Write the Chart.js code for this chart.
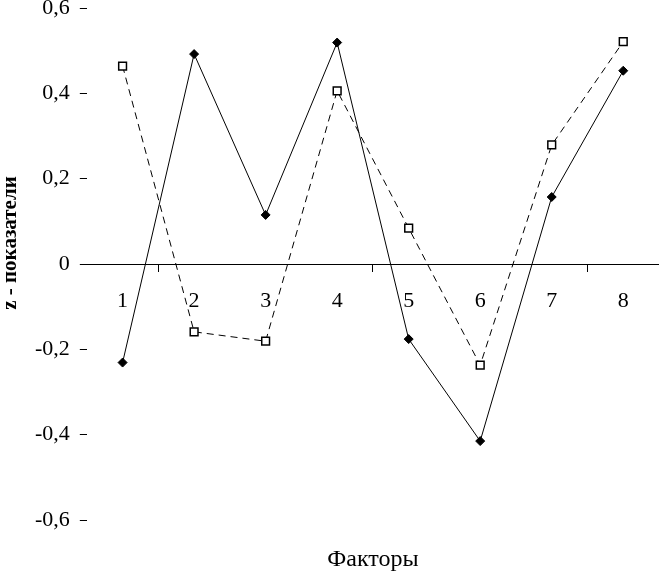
<!DOCTYPE html>
<html>
<head>
<meta charset="utf-8">
<script src="https://cdn.jsdelivr.net/npm/chart.js@4.4.0/dist/chart.umd.min.js"></script>
<style>
  html, body { margin: 0; padding: 0; background: #fff; overflow: hidden; }
  canvas { display: block; }
</style>
</head>
<body>
<!-- 7px mas de ancho: Chart.js deja un margen derecho de 7px que queda fuera de la ventana -->
<canvas id="grafico" width="666" height="572"></canvas>
<script>
// Datos
const factores = ['1', '2', '3', '4', '5', '6', '7', '8'];
const serieSolida = [-0.231, 0.492, 0.115, 0.519, -0.176, -0.415, 0.157, 0.453];
const serieRayada = [0.464, -0.159, -0.181, 0.406, 0.084, -0.237, 0.279, 0.521];
const ticksY = [-0.6, -0.4, -0.2, 0, 0.2, 0.4, 0.6];
const tituloY = 'z - показатели';

const fuente = 'Liberation Serif, Times New Roman, serif';

// Titulo del eje Y dibujado a mano (un poco por encima del centro, como en el original)
const tituloEjeY = {
  id: 'tituloEjeY',
  afterDraw: function(chart) {
    const c = chart.ctx;
    c.save();
    c.translate(11, 243);
    c.rotate(-Math.PI / 2);
    c.fillStyle = '#000';
    c.font = 'bold 21px ' + fuente;
    c.textAlign = 'center';
    c.textBaseline = 'middle';
    c.fillText(tituloY, 0, 0);
    c.restore();
  }
};

var ctx = document.getElementById('grafico').getContext('2d');
var grafico = new Chart(ctx, {
  type: 'line',
  data: {
    labels: factores,
    datasets: [{
      data: serieSolida,
      borderColor: '#000',
      borderWidth: 1,
      pointStyle: 'rectRot',
      pointRadius: 4.5,
      pointBackgroundColor: '#000',
      pointBorderColor: '#000',
      tension: 0
    }, {
      data: serieRayada,
      borderColor: '#000',
      borderWidth: 1,
      borderDash: [7, 5],
      pointStyle: 'rect',
      pointRadius: 5.5,
      pointBorderWidth: 1.5,
      pointBackgroundColor: '#fff',
      pointBorderColor: '#000',
      tension: 0
    }]
  },
  plugins: [tituloEjeY],
  options: {
    responsive: false,
    animation: false,
    layout: { padding: { left: 25, right: 0, top: 0, bottom: 0 } },
    plugins: {
      legend: { display: false },
      tooltip: { enabled: false },
      title: {
        display: true,
        position: 'bottom',
        fullSize: false,
        text: 'Факторы',
        color: '#000',
        font: { family: fuente, size: 24, weight: 'normal', lineHeight: 1.0 },
        padding: { top: 28, bottom: 0 }
      }
    },
    scales: {
      x: {
        position: { y: 0 },
        offset: true,
        afterFit: function(axis) {
          axis.paddingLeft = 0;
          axis.paddingRight = 0;
        },
        border: { display: true, color: '#000', width: 1 },
        grid: {
          offset: true,
          drawOnChartArea: false,
          drawTicks: true,
          tickLength: 7,
          tickColor: function(c) { return [1, 4, 7, 8].includes(c.index) ? '#000' : 'rgba(0,0,0,0)'; }
        },
        ticks: {
          color: '#000',
          padding: 17,
          font: { family: fuente, size: 22 }
        }
      },
      y: {
        min: -0.6,
        max: 0.6,
        afterBuildTicks: function(axis) {
          axis.ticks = ticksY.map(function(v) { return { value: v }; });
        },
        afterFit: function(axis) {
          axis.paddingTop = 8;
          axis.paddingBottom = 8;
        },
        border: { display: false },
        grid: {
          drawOnChartArea: false,
          drawTicks: true,
          tickLength: 7,
          tickColor: '#000'
        },
        ticks: {
          color: '#000',
          padding: 10,
          font: { family: fuente, size: 22 },
          callback: function(v) {
            return v === 0 ? '0' : v.toFixed(1).replace('.', ',');
          }
        }
      }
    }
  }
});
</script>
</body>
</html>
